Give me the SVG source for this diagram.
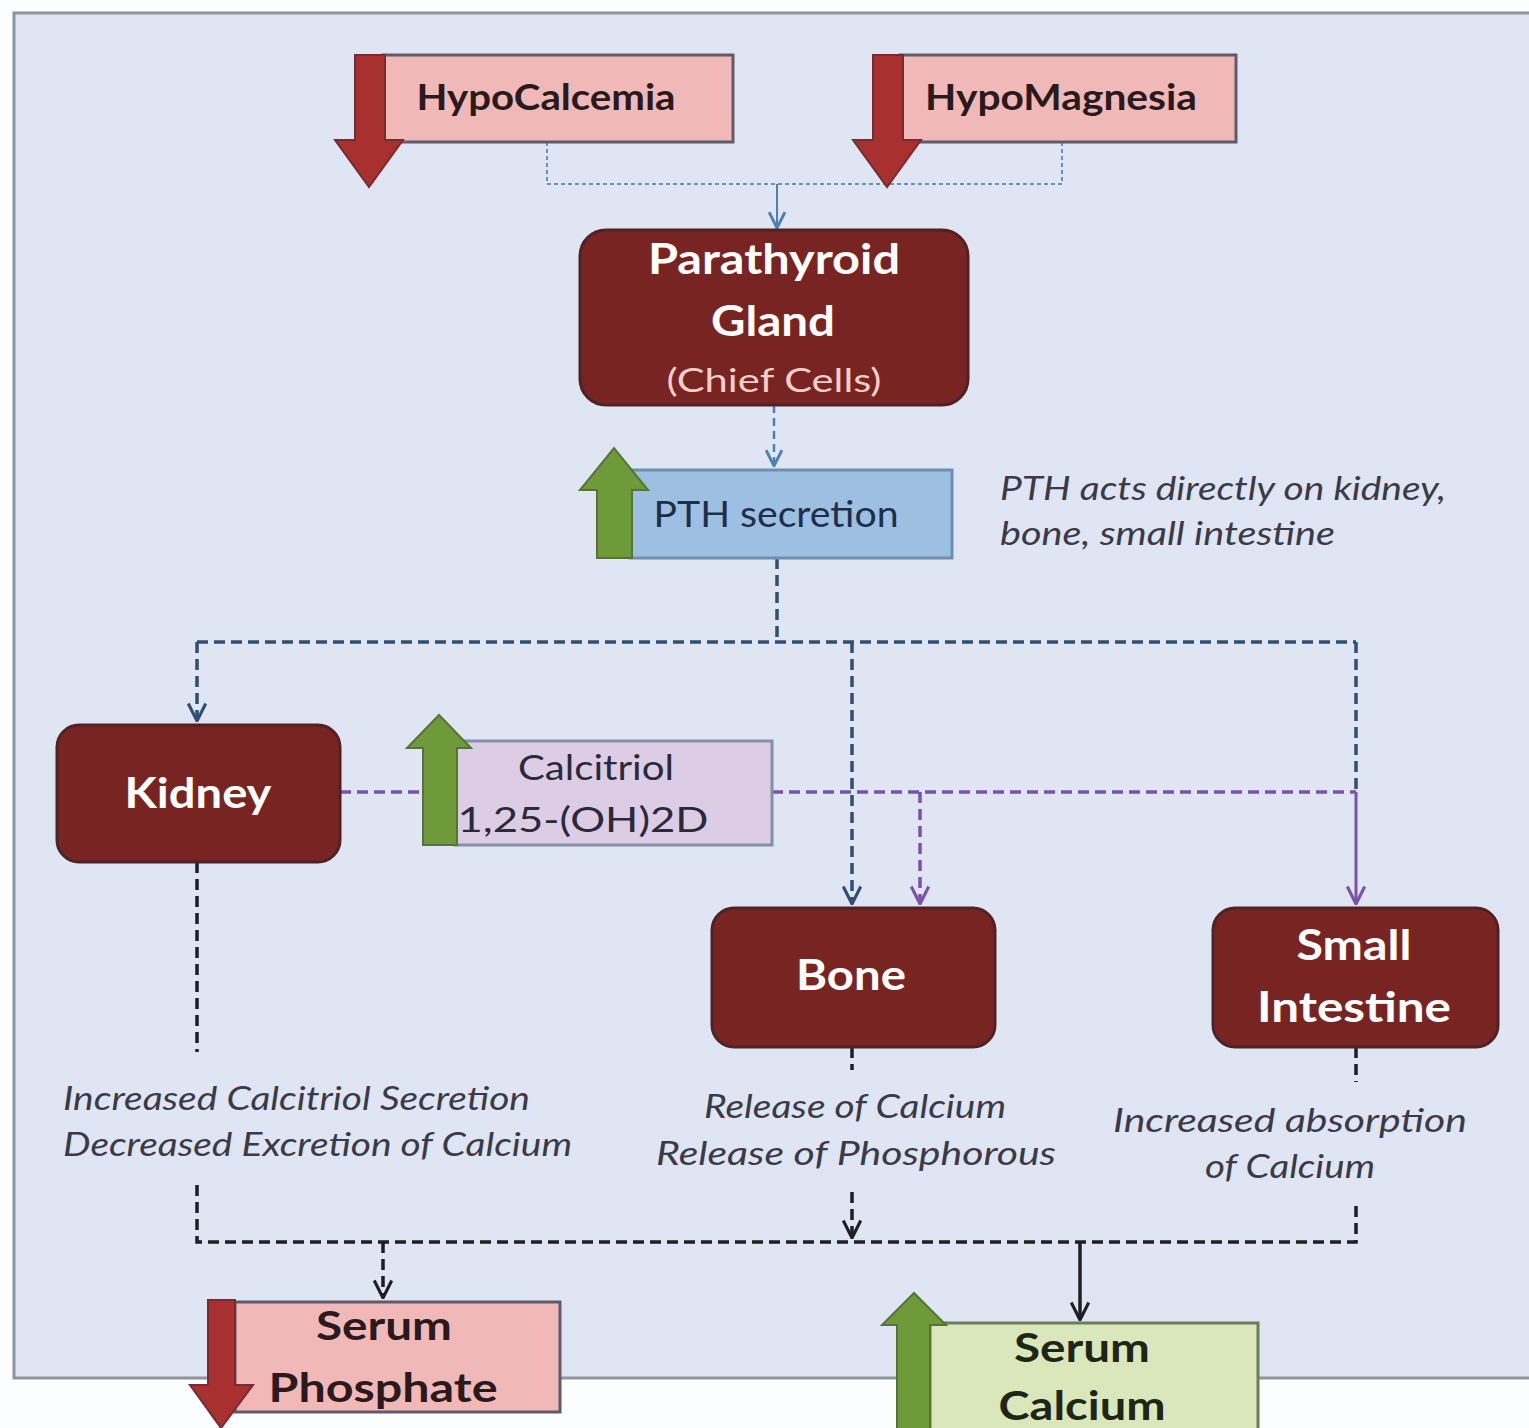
<svg xmlns="http://www.w3.org/2000/svg" width="1529" height="1428" viewBox="0 0 1529 1428">
<style>
.bold{font-family:Lato,"Liberation Sans",sans-serif;font-weight:bold}
.reg{font-family:Lato,"Liberation Sans",sans-serif}
.it{font-family:Lato,"Liberation Sans",sans-serif;font-style:italic;fill:#3a3a48;font-size:32px}
.organ{fill:#782422;stroke:#4f2326;stroke-width:3}
.organtxt{fill:#ffffff;font-size:42px;text-anchor:middle}
.pink{fill:#f0b8b6;stroke:#5e5c6c;stroke-width:3}
.redarrow{fill:#a8302e;stroke:#7a2a30;stroke-width:2}
.greenarrow{fill:#6f9a3a;stroke:#55733a;stroke-width:2}
.blk{fill:none;stroke:#1e1e24;stroke-width:3.5;stroke-dasharray:11 6}
.navy{fill:none;stroke:#2f5072;stroke-width:3.5;stroke-dasharray:11 6}
.purp{fill:none;stroke:#7a52aa;stroke-width:3.5;stroke-dasharray:11 6}
.dot{fill:none;stroke:#6f8fb8;stroke-width:2;stroke-dasharray:4 3}
</style>
<defs>
<marker id="aBlue" viewBox="0 0 16 16" refX="15" refY="8" markerWidth="18" markerHeight="18" markerUnits="userSpaceOnUse" orient="auto"><path d="M1,1 L15,8 L1,15" fill="none" stroke="#4f7fb0" stroke-width="2.5"/></marker>
<marker id="aNavy" viewBox="0 0 16 16" refX="15" refY="8" markerWidth="20" markerHeight="20" markerUnits="userSpaceOnUse" orient="auto"><path d="M1,1 L15,8 L1,15" fill="none" stroke="#2f5072" stroke-width="2.5"/></marker>
<marker id="aPurp" viewBox="0 0 16 16" refX="15" refY="8" markerWidth="20" markerHeight="20" markerUnits="userSpaceOnUse" orient="auto"><path d="M1,1 L15,8 L1,15" fill="none" stroke="#7a52aa" stroke-width="2.5"/></marker>
<marker id="aBlk" viewBox="0 0 16 16" refX="15" refY="8" markerWidth="20" markerHeight="20" markerUnits="userSpaceOnUse" orient="auto"><path d="M1,1 L15,8 L1,15" fill="none" stroke="#1e1e24" stroke-width="2.5"/></marker>
</defs>
<rect x="0" y="0" width="1529" height="1428" fill="#fbfdfe"/>
<rect id="panel" x="14" y="13" width="1530" height="1365" fill="#dfe5f3" stroke="#8e959c" stroke-width="3"/>

<g id="connectors">
<path class="dot" d="M547,142 V184 H1062 V142"/>
<path d="M777,184 V228" fill="none" stroke="#4f7fb0" stroke-width="2" marker-end="url(#aBlue)"/>
<path d="M774,405 V466" fill="none" stroke="#4f7fb0" stroke-width="2.5" stroke-dasharray="8 5" marker-end="url(#aBlue)"/>
<path class="navy" d="M777,558 V642"/>
<path class="navy" d="M197,642 H1356"/>
<path class="navy" d="M197,642 V721" marker-end="url(#aNavy)"/>
<path class="navy" d="M852,642 V904" marker-end="url(#aNavy)"/>
<path class="navy" d="M1356,642 V792"/>
<path class="purp" d="M340,792 H423"/>
<path class="purp" d="M772,792 H1356"/>
<path class="purp" d="M920,792 V904" marker-end="url(#aPurp)"/>
<path d="M1356,792 V904" fill="none" stroke="#7a52aa" stroke-width="3" marker-end="url(#aPurp)"/>
<path class="blk" d="M197,862 V1052"/>
<path class="blk" d="M852,1047 V1070"/>
<path class="blk" d="M1356,1047 V1082"/>
<path class="blk" d="M197,1185 V1242 H1356 V1205"/>
<path class="blk" d="M852,1192 V1238" stroke-dasharray="6 5" marker-end="url(#aBlk)"/>
<path class="blk" d="M383,1242 V1298" stroke-dasharray="6 5" marker-end="url(#aBlk)"/>
<path d="M1080,1242 V1320" fill="none" stroke="#1e1e24" stroke-width="3.5" marker-end="url(#aBlk)"/>
</g>

<g id="hypocalcemia">
<rect class="pink" x="383" y="55" width="350" height="87"/>
<path class="redarrow" d="M355,55 H385 V140 H403 L369,187 L335,140 H355 Z"/>
<text class="bold" x="546" y="110" font-size="36" fill="#2a1a1e" text-anchor="middle" textLength="259" lengthAdjust="spacingAndGlyphs">HypoCalcemia</text>
</g>
<g id="hypomagnesia">
<rect class="pink" x="900" y="55" width="336" height="87"/>
<path class="redarrow" d="M873,55 H903 V140 H921 L887,187 L853,140 H873 Z"/>
<text class="bold" x="1061" y="110" font-size="36" fill="#2a1a1e" text-anchor="middle" textLength="272" lengthAdjust="spacingAndGlyphs">HypoMagnesia</text>
</g>

<g id="parathyroid">
<rect class="organ" x="580" y="230" width="388" height="175" rx="26"/>
<text class="bold organtxt" x="774" y="274" textLength="252" lengthAdjust="spacingAndGlyphs">Parathyroid</text>
<text class="bold organtxt" x="773" y="336" textLength="124" lengthAdjust="spacingAndGlyphs">Gland</text>
<text class="reg" x="774" y="392" font-size="33" fill="#f2cfc8" text-anchor="middle" textLength="215" lengthAdjust="spacingAndGlyphs">(Chief Cells)</text>
</g>

<g id="pth">
<rect x="630" y="470" width="322" height="88" fill="#9dbfe2" stroke="#6f8fb2" stroke-width="3"/>
<path class="greenarrow" d="M597,558 V490 H580 L614,448 L648,490 H632 V558 Z"/>
<text class="reg" x="776" y="527" font-size="36" fill="#1e2f4a" text-anchor="middle" textLength="245" lengthAdjust="spacingAndGlyphs">PTH secretion</text>
</g>
<g id="pth-note">
<text class="it" x="1000" y="500" textLength="446" lengthAdjust="spacingAndGlyphs">PTH acts directly on kidney,</text>
<text class="it" x="1000" y="545" textLength="335" lengthAdjust="spacingAndGlyphs">bone, small intestine</text>
</g>

<g id="kidney">
<rect class="organ" x="57" y="725" width="283" height="137" rx="22"/>
<text class="bold organtxt" x="198" y="808" textLength="147" lengthAdjust="spacingAndGlyphs">Kidney</text>
</g>

<g id="calcitriol">
<rect x="455" y="741" width="317" height="104" fill="#dccde4" stroke="#8290a8" stroke-width="3"/>
<path class="greenarrow" d="M423,845 V748 H407 L439,715 L471,748 H457 V845 Z"/>
<text class="reg" x="596" y="780" font-size="34" fill="#2a2a3a" text-anchor="middle" textLength="156" lengthAdjust="spacingAndGlyphs">Calcitriol</text>
<text class="reg" x="583" y="832" font-size="34" fill="#2a2a3a" text-anchor="middle" textLength="251" lengthAdjust="spacingAndGlyphs">1,25-(OH)2D</text>
</g>

<g id="bone">
<rect class="organ" x="712" y="908" width="283" height="139" rx="22"/>
<text class="bold organtxt" x="851" y="990" textLength="110" lengthAdjust="spacingAndGlyphs">Bone</text>
</g>

<g id="small-intestine">
<rect class="organ" x="1213" y="908" width="285" height="139" rx="22"/>
<text class="bold organtxt" x="1354" y="960" textLength="115" lengthAdjust="spacingAndGlyphs">Small</text>
<text class="bold organtxt" x="1354" y="1022" textLength="194" lengthAdjust="spacingAndGlyphs">Intestine</text>
</g>

<g id="kidney-effect">
<text class="it" x="63" y="1110" textLength="467" lengthAdjust="spacingAndGlyphs">Increased Calcitriol Secretion</text>
<text class="it" x="63" y="1156" textLength="509" lengthAdjust="spacingAndGlyphs">Decreased Excretion of Calcium</text>
</g>
<g id="bone-effect">
<text class="it" x="704" y="1118" textLength="302" lengthAdjust="spacingAndGlyphs">Release of Calcium</text>
<text class="it" x="656" y="1165" textLength="400" lengthAdjust="spacingAndGlyphs">Release  of Phosphorous</text>
</g>
<g id="intestine-effect">
<text class="it" x="1113" y="1132" textLength="354" lengthAdjust="spacingAndGlyphs">Increased  absorption</text>
<text class="it" x="1205" y="1178" textLength="170" lengthAdjust="spacingAndGlyphs">of Calcium</text>
</g>

<g id="serum-phosphate">
<rect class="pink" x="235" y="1302" width="325" height="110"/>
<path class="redarrow" d="M208,1300 H235 V1385 H253 L221,1428 L190,1385 H208 Z"/>
<text class="bold" x="384" y="1340" font-size="41" fill="#2a1a1e" text-anchor="middle" textLength="136" lengthAdjust="spacingAndGlyphs">Serum</text>
<text class="bold" x="383" y="1402" font-size="41" fill="#2a1a1e" text-anchor="middle" textLength="229" lengthAdjust="spacingAndGlyphs">Phosphate</text>
</g>

<g id="serum-calcium">
<rect x="930" y="1323" width="328" height="120" fill="#d9e7ba" stroke="#6d7c5c" stroke-width="3"/>
<path class="greenarrow" d="M897,1440 V1325 H882 L914,1293 L946,1325 H930 V1440 Z"/>
<text class="bold" x="1082" y="1362" font-size="41" fill="#1e2618" text-anchor="middle" textLength="136" lengthAdjust="spacingAndGlyphs">Serum</text>
<text class="bold" x="1082" y="1420" font-size="41" fill="#1e2618" text-anchor="middle" textLength="167" lengthAdjust="spacingAndGlyphs">Calcium</text>
</g>
</svg>
